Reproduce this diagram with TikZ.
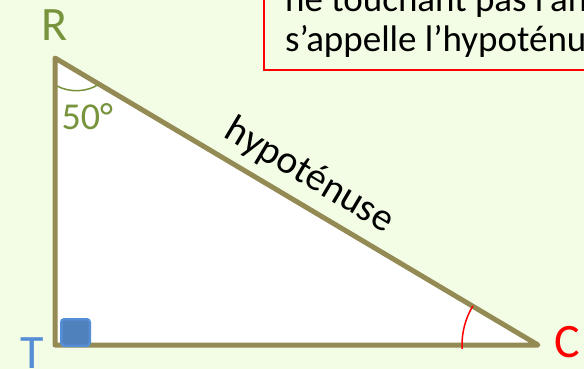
\documentclass[tikz,border=0pt]{standalone}
\usepackage{fontspec}
\setmainfont{Carlito}
\usetikzlibrary{calc}
\definecolor{bgc}{RGB}{243,253,230}
\definecolor{olive}{RGB}{148,138,84}
\definecolor{lgreen}{RGB}{119,147,60}
\definecolor{tblue}{RGB}{85,142,213}
\definecolor{sqfill}{RGB}{79,129,189}
\definecolor{pred}{RGB}{255,0,0}
\tikzset{
  tri/.style={draw=olive, line width=5pt, line join=round, line cap=round, fill=white},
  biglabel/.style={font=\fontsize{48}{48}\selectfont, inner sep=0pt},
  txt/.style={font=\fontsize{37}{40}\selectfont, inner sep=0pt, anchor=base west},
  frame/.style={draw=pred, line width=2pt, inner sep=0pt, anchor=south west},
  rightsq/.style={draw=tblue, fill=sqfill, line width=2.5pt, rounded corners=3pt, minimum width=28.5pt, minimum height=26.5pt, inner sep=0pt}
}
\begin{document}
\begin{tikzpicture}[x=1pt,y=-1pt]
\useasboundingbox (0,0) rectangle (584,369);
\clip (0,0) rectangle (584,369);
\fill[bgc] (0,0) rectangle (584,369);
% definition box
\node[frame, minimum width=360pt, minimum height=110pt] (box) at (263,71) {};
\node[txt] (l1) at (285,12) {ne touchant pas l’angle droit};
\node[txt] (l2) at (285,52) {s’appelle l’hypoténuse};
% triangle
\coordinate (T) at (55,345);
\coordinate (R) at (55,58);
\coordinate (C) at (538,345);
\draw[tri] (R) -- (T) -- (C) -- cycle;
% angle marks
\draw[lgreen, line width=1.5pt] (57,86) .. controls (70,93) and (88,92) .. (99,84);
\draw[pred, line width=1.5pt] ($(C)+(211:76)$) arc[start angle=211, end angle=177, radius=76];
\node[rightsq] (sq) at (75.5,332.5) {};
% labels
\node[biglabel, text=lgreen, anchor=base] (lR) at (54.5,41) {R};
\node[biglabel, text=tblue, anchor=base] (lT) at (32,368) {T};
\node[biglabel, text=pred, anchor=base west] (lC) at (554.5,357) {C};
\node[font=\fontsize{38}{38}\selectfont, text=lgreen, inner sep=0pt, anchor=base west] (ang) at (61.5,129) {50°};
\node[font=\fontsize{39.5}{39.5}\selectfont, inner sep=0pt, anchor=base, rotate=-30.7] (hyp) at (304,185) {hypoténuse};
\end{tikzpicture}
\end{document}
